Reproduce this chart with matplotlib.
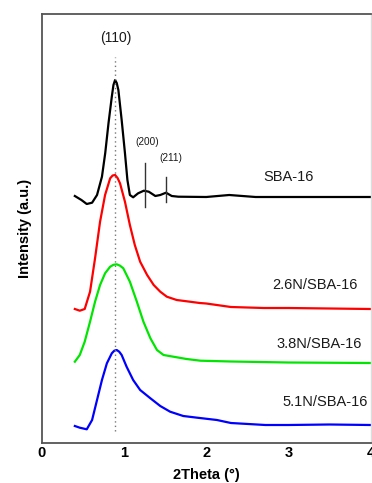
import matplotlib
matplotlib.use("Agg")
import matplotlib.pyplot as plt

############################################
# DATA (arbitrary intensity units)
############################################

x_sba = [0.40, 0.48, 0.545, 0.61, 0.67, 0.73, 0.77, 0.81, 0.85, 0.87, 0.89, 0.91, 0.93, 0.97,
         1.01, 1.04, 1.07, 1.11, 1.17, 1.24, 1.30, 1.38, 1.44, 1.51, 1.58, 1.66,
         2.0, 2.28, 2.6, 3.0, 3.5, 4.0]
y_sba = [247, 243, 239, 240.3, 248, 266.3, 290, 320, 346.3, 358, 363, 360, 353, 323,
         290, 263, 248, 245.7, 249.7, 252.3, 251.3, 247, 248, 250.3, 247, 246.3,
         246, 248, 246, 246, 246, 246]

x_26 = [0.40, 0.46, 0.52, 0.585, 0.646, 0.707, 0.768, 0.83, 0.86, 0.89, 0.92, 0.95, 1.01, 1.07,
        1.13, 1.195, 1.28, 1.36, 1.44, 1.52, 1.64, 1.80, 1.92, 2.0, 2.3, 2.7,
        3.0, 3.5, 4.0]
y_26 = [134, 132.3, 134, 151.3, 184.7, 221.3, 248, 264.7, 267.5, 268, 265, 259.7, 241.3, 218,
        198, 181.3, 168, 158, 151.3, 146.3, 143, 141.3, 140, 139.5, 136, 135,
        135, 134.5, 134]

x_38 = [0.40, 0.46, 0.52, 0.585, 0.646, 0.707, 0.768, 0.83, 0.87, 0.91, 0.95, 0.99, 1.07, 1.155,
        1.235, 1.32, 1.40, 1.48, 1.60, 1.76, 1.93, 2.3, 3.0, 4.0]
y_38 = [81.3, 88, 101.3, 121.3, 141.3, 158, 169.7, 176.3, 178.2, 178.7, 177.3, 174.7, 161.3, 141.3,
        121.3, 104.7, 93, 88, 86.3, 84, 82.3, 81.5, 80.5, 80]

x_51 = [0.40, 0.46, 0.545, 0.61, 0.67, 0.73, 0.79, 0.85, 0.88, 0.91, 0.94, 0.97, 1.03, 1.11,
        1.195, 1.32, 1.44, 1.56, 1.72, 1.89, 2.13, 2.3, 2.72, 3.0, 3.5, 4.0]
y_51 = [17, 15.3, 13.7, 23, 43, 63, 79.7, 89.7, 92.3, 93, 91.3, 88, 76.3, 63,
        53, 44.7, 37, 31.3, 27, 25.3, 23, 20, 18, 18, 18.5, 18]

series_names = ["SBA-16", "2.6N/SBA-16", "3.8N/SBA-16", "5.1N/SBA-16"]
series_colors = ["black", "#ff0000", "#00e600", "#0000ff"]

# peak position of (110) and the small reflections
peak_110 = 0.89
peak_labels = ["(200)", "(211)"]
peak_pos = [1.26, 1.51]
peak_lo = [236, 241]
peak_hi = [280, 266]

x_ticks = [0, 1, 2, 3, 4]

############################################
# PLOT
############################################

plt.rcParams["font.family"] = ["Liberation Sans", "DejaVu Sans"]

fig = plt.figure(figsize=(3.72, 4.83), dpi=100)
ax = fig.add_axes([42 / 372, 40 / 483, 328.5 / 372, 429 / 483])

xs = [x_sba, x_26, x_38, x_51]
ys = [y_sba, y_26, y_38, y_51]
for xx, yy, c in zip(xs, ys, series_colors):
    ax.plot(xx, yy, color=c, lw=1.6, solid_joinstyle="round")

# dotted guide through (110)
ax.plot([peak_110, peak_110], [12, 386], color="#777777", lw=1.0, ls=(0, (1, 2.2)))
ax.text(peak_110 + 0.01, 405, "(110)", ha="center", va="center", fontsize=10, color="#1a1a1a")

# (200), (211) markers
for lab, p, lo, hi, tx, ty in zip(peak_labels, peak_pos, peak_lo, peak_hi,
                                  [1.28, 1.57], [301, 285]):
    ax.plot([p, p], [lo, hi], color="#333333", lw=1.0)
    ax.text(tx, ty, lab, ha="center", va="center", fontsize=7.2, color="#1a1a1a")

# series labels
lab_x = [3.0, 3.32, 3.37, 3.45]
lab_y = [266, 158, 99, 41]
for name, lx, ly in zip(series_names, lab_x, lab_y):
    ax.text(lx, ly, name, ha="center", va="center", fontsize=10.5, color="#1a1a1a")

ax.set_xlim(0, 4)
ax.set_ylim(0, 429)
ax.set_xticks(x_ticks)
ax.set_xticklabels([str(t) for t in x_ticks], fontweight="bold", fontsize=10.5)
ax.set_yticks([])
ax.tick_params(axis="x", length=0, pad=2)

for s in ["left", "bottom", "top"]:
    ax.spines[s].set_color("#555555")
    ax.spines[s].set_linewidth(1.3)
ax.spines["right"].set_color("#dddddd")
ax.spines["right"].set_linewidth(1.0)

ax.set_xlabel("2Theta (°)", fontweight="bold", fontsize=10.5)
ax.xaxis.set_label_coords(0.5, -0.058)
ax.set_ylabel("Intensity (a.u.)", fontweight="bold", fontsize=10.5)
ax.yaxis.set_label_coords(-0.03, 0.5)

fig.savefig("out.png", dpi=100)
